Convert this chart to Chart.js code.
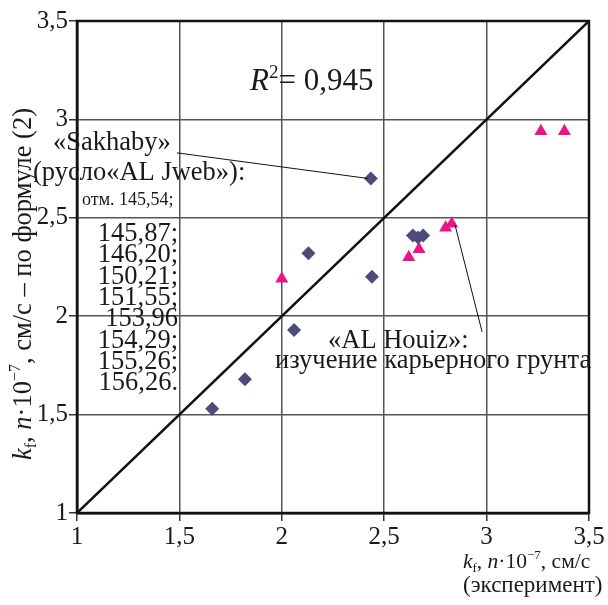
<!DOCTYPE html>
<html>
<head>
<meta charset="utf-8">
<script src="https://cdn.jsdelivr.net/npm/chart.js@4/dist/chart.umd.min.js"></script>
<style>
  html, body { margin: 0; padding: 0; background: #fff; }
</style>
</head>
<body>
<canvas id="kfChart" width="608" height="605"></canvas>
<script>
// ---- data ----
var tickValues = [1, 1.5, 2, 2.5, 3, 3.5];
var tickLabels = ['1', '1,5', '2', '2,5', '3', '3,5'];

// «Sakhaby» (diamonds): experiment vs formula (2)
var sakhabyX = [1.66, 1.82, 2.06, 2.13, 2.44, 2.435, 2.64, 2.665, 2.69];
var sakhabyY = [1.53, 1.68, 1.93, 2.32, 2.20, 2.70, 2.41, 2.40, 2.41];

// «AL Houiz» (triangles)
var houizX = [2.00, 2.62, 2.67, 2.80, 2.83, 3.265, 3.38];
var houizY = [2.19, 2.30, 2.34, 2.45, 2.47, 2.94, 2.94];

// 1:1 line
var diagX = [1, 3.5];
var diagY = [1, 3.5];

var r2Value = '0,945';
var marksList = ['145,87;', '146,20;', '150,21;', '151,55;', '153,96', '154,29;', '155,26;', '156,26.'];

// leader lines (data coords): label -> point
var sakhabyLeader = [[1.488, 2.83], [2.42, 2.70]];
var houizLeader = [[2.846, 2.463], [2.978, 1.92]];

function pts(xs, ys) { return xs.map(function(x, i) { return { x: x, y: ys[i] }; }); }

var SERIF = '"Liberation Serif", "Times New Roman", serif';
var INK = '#1a1a1a';

function fontOf(s, size) {
    var sz = (s.sub || s.sup) ? Math.round(size * 0.62) : size;
    return (s.it ? 'italic ' : '') + sz + 'px ' + SERIF;
}
// draws text made of styled pieces (italic / sub / sup)
function rich(ctx, segs, x, y, size, align) {
    var total = 0;
    segs.forEach(function(s) { ctx.font = fontOf(s, size); s.w = ctx.measureText(s.t).width; total += s.w; });
    var cx = align === 'right' ? x - total : align === 'center' ? x - total / 2 : x;
    segs.forEach(function(s) {
        ctx.font = fontOf(s, size);
        var dy = s.sub ? size * 0.2 : s.sup ? -size * 0.4 : 0;
        ctx.fillText(s.t, cx, y + dy);
        cx += s.w;
    });
}

function kfLabel() {
    return [
        { t: 'k', it: true }, { t: 'f', sub: true }, { t: ', ' }, { t: 'n', it: true },
        { t: '\u00B710' }, { t: '\u22127', sup: true }, { t: ', \u0441\u043C/\u0441' }
    ];
}

var framePlugin = {
    id: 'frame',
    beforeDatasetsDraw: function(chart) {
        var a = chart.chartArea, ctx = chart.ctx;
        ctx.save();
        ctx.strokeStyle = '#111';
        ctx.lineWidth = 2.5;
        ctx.strokeRect(a.left, a.top, a.right - a.left, a.bottom - a.top);
        ctx.restore();
    },
    afterDraw: function(chart) {
        var ctx = chart.ctx, xs = chart.scales.x, ys = chart.scales.y;
        ctx.save();
        ctx.fillStyle = INK;
        ctx.textBaseline = 'alphabetic';
        ctx.textAlign = 'left';

        // leader lines
        ctx.strokeStyle = '#111';
        ctx.lineWidth = 1;
        [sakhabyLeader, houizLeader].forEach(function(l) {
            ctx.beginPath();
            ctx.moveTo(xs.getPixelForValue(l[0][0]), ys.getPixelForValue(l[0][1]));
            ctx.lineTo(xs.getPixelForValue(l[1][0]), ys.getPixelForValue(l[1][1]));
            ctx.stroke();
        });

        // R^2
        rich(ctx, [{ t: 'R', it: true }, { t: '2', sup: true }, { t: '= ' + r2Value }], 250, 90, 31, 'left');

        // «Sakhaby» block
        ctx.font = '26.5px ' + SERIF;
        ctx.fillText('\u00ABSakhaby\u00BB', 53, 150);
        ctx.fillText('(\u0440\u0443\u0441\u043B\u043E\u00ABAL Jweb\u00BB):', 33, 180);
        ctx.font = '18px ' + SERIF;
        ctx.fillText('\u043E\u0442\u043C. 145,54;', 82, 205);
        ctx.font = '26.5px ' + SERIF;
        ctx.textAlign = 'right';
        marksList.forEach(function(m, i) { ctx.fillText(m, 178, 241 + i * 21.3); });
        ctx.textAlign = 'left';

        // «AL Houiz» block
        ctx.fillText('\u00ABAL Houiz\u00BB:', 328, 348);
        ctx.fillText('\u0438\u0437\u0443\u0447\u0435\u043D\u0438\u0435 \u043A\u0430\u0440\u044C\u0435\u0440\u043D\u043E\u0433\u043E \u0433\u0440\u0443\u043D\u0442\u0430', 275, 368);

        // x axis title
        rich(ctx, kfLabel(), 463, 568, 21.5, 'left');
        ctx.font = '23px ' + SERIF;
        ctx.fillText('(\u044D\u043A\u0441\u043F\u0435\u0440\u0438\u043C\u0435\u043D\u0442)', 463, 592);

        // y axis title (rotated)
        ctx.translate(31, 284);
        ctx.rotate(-Math.PI / 2);
        var ySegs = kfLabel();
        ySegs.push({ t: ' \u2013 \u043F\u043E \u0444\u043E\u0440\u043C\u0443\u043B\u0435 (2)' });
        rich(ctx, ySegs, 0, 0, 26.5, 'center');
        ctx.restore();
    }
};

function axisCfg(fit) {
    return {
        type: 'linear',
        min: 1,
        max: 3.5,
        afterFit: fit,
        afterBuildTicks: function(s) { s.ticks = tickValues.map(function(v) { return { value: v }; }); },
        ticks: {
            autoSkip: false,
            maxRotation: 0,
            color: INK,
            font: { family: SERIF, size: 25 },
            callback: function(v) { return tickLabels[tickValues.indexOf(v)]; }
        },
        grid: { color: '#555', lineWidth: 1.5, tickLength: 8, tickColor: '#333' },
        border: { color: '#111', width: 2.5 }
    };
}

var xAxis = axisCfg(function(s) { s.height = 92; });
xAxis.ticks.padding = 1;
var yAxis = axisCfg(function(s) { s.width = 77; });
yAxis.ticks.padding = 1;

new Chart(document.getElementById('kfChart').getContext('2d'), {
    type: 'scatter',
    data: {
        datasets: [
            {
                type: 'line',
                data: pts(diagX, diagY),
                borderColor: '#111',
                borderWidth: 2.5,
                pointRadius: 0,
                fill: false
            },
            {
                data: pts(sakhabyX, sakhabyY),
                pointStyle: 'rectRot',
                pointRadius: 7,
                backgroundColor: '#4D4B7C',
                borderColor: '#4D4B7C',
                borderWidth: 0
            },
            {
                data: pts(houizX, houizY),
                pointStyle: 'triangle',
                pointRadius: 7.5,
                backgroundColor: '#EA1388',
                borderColor: '#EA1388',
                borderWidth: 0
            }
        ]
    },
    options: {
        responsive: false,
        devicePixelRatio: 1,
        animation: false,
        layout: { padding: { left: 0, top: 21, right: 19, bottom: 0 } },
        plugins: { legend: { display: false }, tooltip: { enabled: false } },
        scales: { x: xAxis, y: yAxis }
    },
    plugins: [framePlugin]
});
</script>
</body>
</html>
